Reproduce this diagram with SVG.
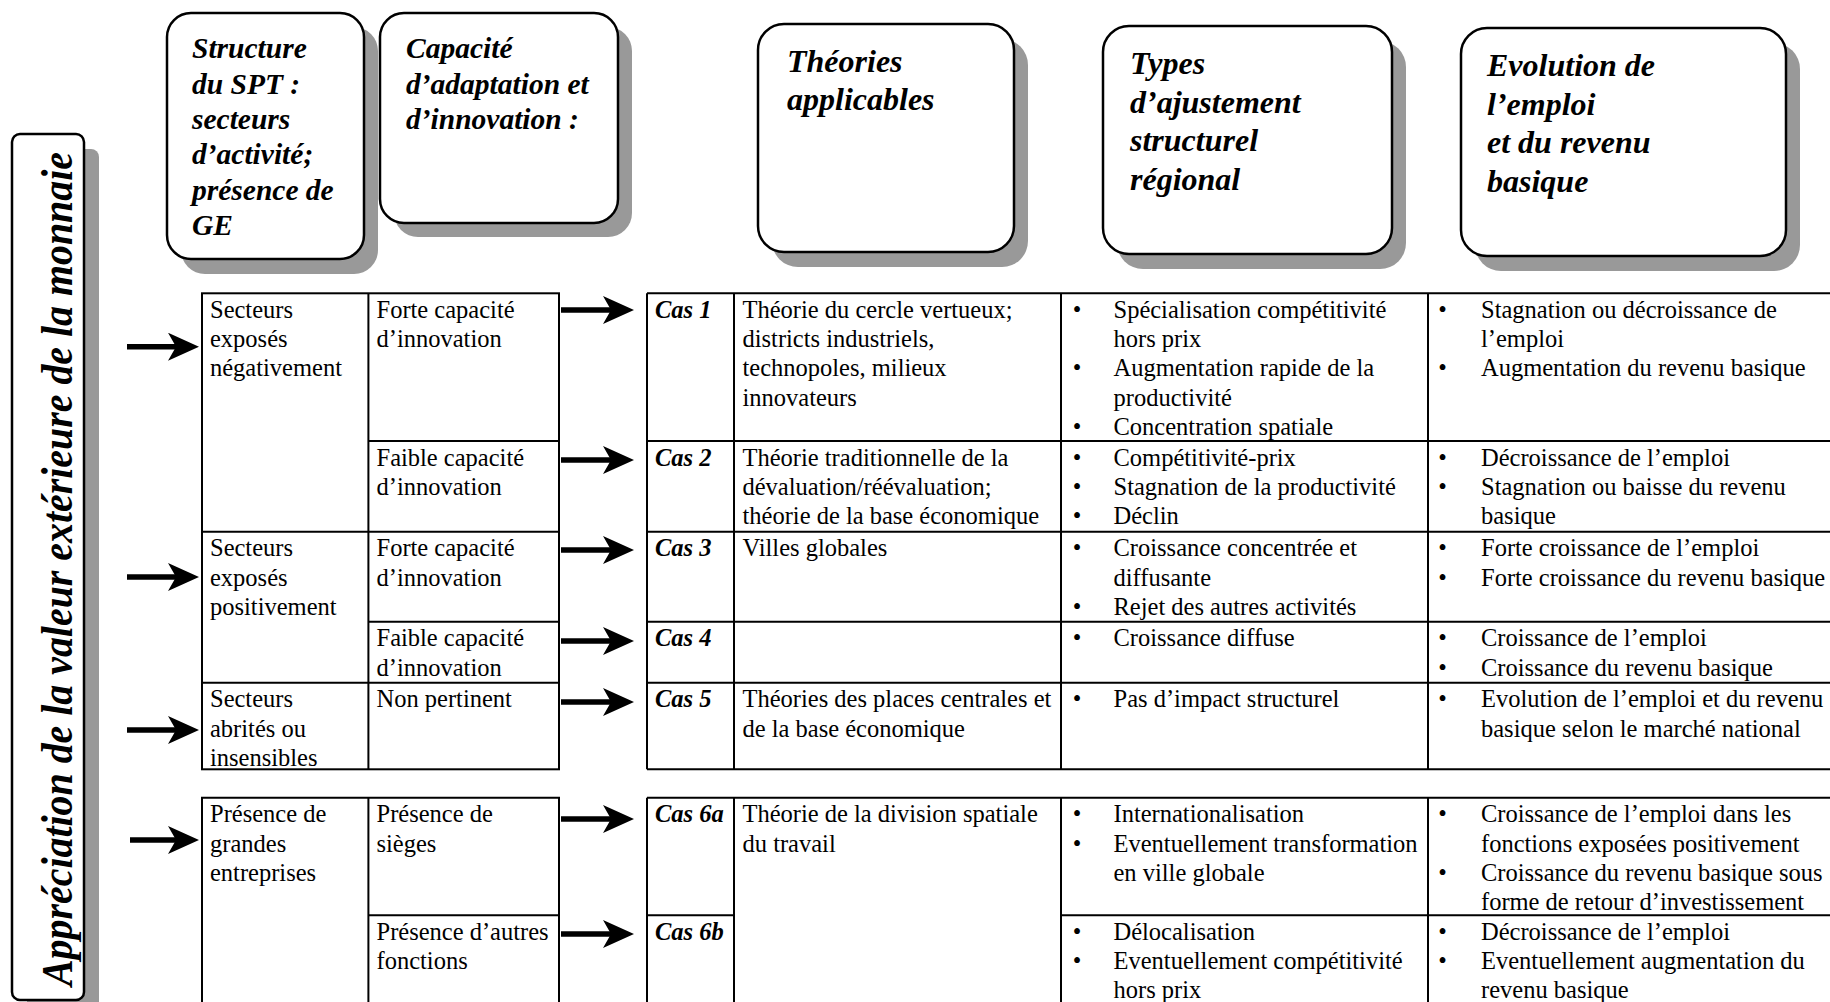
<svg xmlns="http://www.w3.org/2000/svg" width="1830" height="1002" viewBox="0 0 1830 1002">
<style>
text{font-family:"Liberation Serif","Times New Roman",serif;fill:#000}
.t{font-size:24.5px}
.ci{font-size:24.5px;font-weight:bold;font-style:italic}
.h1{font-size:29.5px;font-weight:bold;font-style:italic}
.h2{font-size:32px;font-weight:bold;font-style:italic}
.vt{font-size:44px;font-weight:bold;font-style:italic}
.box{fill:#fff;stroke:#000;stroke-width:2.5}
.sh{fill:#999}
.ln{stroke:#000;stroke-width:2;fill:none}
.arr{stroke:#000;stroke-width:5.5;fill:none;marker-end:url(#ah)}
.b{text-anchor:middle}
</style>
<defs>
<marker id="ah" markerUnits="userSpaceOnUse" markerWidth="31" markerHeight="28" viewBox="0 0 31 28" refX="14" refY="14" orient="auto">
<path d="M0,0 L31,14 L0,28 L8,14 Z" fill="#000"/>
</marker>
</defs>
<rect width="1830" height="1002" fill="#fff"/>

<g id="label-vertical">
<rect class="sh" x="27" y="149" width="72" height="870" rx="8"/>
<rect class="box" x="12" y="134" width="72" height="866" rx="8"/>
<text class="vt" text-anchor="middle" transform="translate(72,569) rotate(-90)" textLength="834" lengthAdjust="spacingAndGlyphs">Appréciation de la valeur extérieure de la monnaie</text>
</g>

<g id="header-structure">
<rect class="sh" x="181" y="27" width="197" height="247" rx="24"/>
<rect class="box" x="167" y="13" width="197" height="246" rx="24"/>
<text class="h1"><tspan x="192" y="58.3">Structure</tspan><tspan x="192" y="93.6">du SPT :</tspan><tspan x="192" y="128.9">secteurs</tspan><tspan x="192" y="164.2">d’activité;</tspan><tspan x="192" y="199.5">présence de</tspan><tspan x="192" y="234.8">GE</tspan></text>
</g>

<g id="header-capacite">
<rect class="sh" x="394" y="27" width="238" height="210" rx="24"/>
<rect class="box" x="380" y="13" width="238" height="210" rx="24"/>
<text class="h1"><tspan x="406" y="58.3">Capacité</tspan><tspan x="406" y="93.6">d’adaptation et</tspan><tspan x="406" y="128.9">d’innovation :</tspan></text>
</g>

<g id="header-theories">
<rect class="sh" x="772" y="39" width="256" height="228" rx="26"/>
<rect class="box" x="758" y="24" width="256" height="228" rx="26"/>
<text class="h2"><tspan x="787" y="71.7">Théories</tspan><tspan x="787" y="110">applicables</tspan></text>
</g>

<g id="header-types">
<rect class="sh" x="1117" y="41" width="289" height="228" rx="26"/>
<rect class="box" x="1103" y="26" width="289" height="228" rx="26"/>
<text class="h2"><tspan x="1130" y="74">Types</tspan><tspan x="1130" y="112.7">d’ajustement</tspan><tspan x="1130" y="151.4">structurel</tspan><tspan x="1130" y="190.1">régional</tspan></text>
</g>

<g id="header-evolution">
<rect class="sh" x="1475" y="43" width="325" height="228" rx="26"/>
<rect class="box" x="1461" y="28" width="325" height="228" rx="26"/>
<text class="h2"><tspan x="1487" y="76">Evolution de</tspan><tspan x="1487" y="114.6">l’emploi</tspan><tspan x="1487" y="153.2">et du revenu</tspan><tspan x="1487" y="191.8">basique</tspan></text>
</g>

<g id="table-left-1">
<rect class="ln" x="202" y="293.3" width="357" height="476"/>
<line class="ln" x1="368.4" y1="293.3" x2="368.4" y2="769.3"/>
<line class="ln" x1="368.4" y1="441" x2="559" y2="441"/>
<line class="ln" x1="202" y1="531.7" x2="559" y2="531.7"/>
<line class="ln" x1="368.4" y1="621.7" x2="559" y2="621.7"/>
<line class="ln" x1="202" y1="682.7" x2="559" y2="682.7"/>
<text class="t"><tspan x="210" y="317.8">Secteurs</tspan><tspan x="210" y="347.1">exposés</tspan><tspan x="210" y="376.4">négativement</tspan></text>
<text class="t"><tspan x="376.5" y="317.8">Forte capacité</tspan><tspan x="376.5" y="347.1">d’innovation</tspan></text>
<text class="t"><tspan x="376.5" y="465.5">Faible capacité</tspan><tspan x="376.5" y="494.8">d’innovation</tspan></text>
<text class="t"><tspan x="210" y="556.2">Secteurs</tspan><tspan x="210" y="585.5">exposés</tspan><tspan x="210" y="614.8">positivement</tspan></text>
<text class="t"><tspan x="376.5" y="556.2">Forte capacité</tspan><tspan x="376.5" y="585.5">d’innovation</tspan></text>
<text class="t"><tspan x="376.5" y="646.2">Faible capacité</tspan><tspan x="376.5" y="675.5">d’innovation</tspan></text>
<text class="t"><tspan x="210" y="707.2">Secteurs</tspan><tspan x="210" y="736.5">abrités ou</tspan><tspan x="210" y="765.8">insensibles</tspan></text>
<text class="t"><tspan x="376.5" y="707.2">Non pertinent</tspan></text>
</g>

<g id="table-left-2">
<polyline class="ln" points="202,1010 202,797.7 559,797.7 559,1010"/>
<line class="ln" x1="368.4" y1="797.7" x2="368.4" y2="1010"/>
<line class="ln" x1="368.4" y1="915.3" x2="559" y2="915.3"/>
<text class="t"><tspan x="210" y="822.2">Présence de</tspan><tspan x="210" y="851.5">grandes</tspan><tspan x="210" y="880.8">entreprises</tspan></text>
<text class="t"><tspan x="376.5" y="822.2">Présence de</tspan><tspan x="376.5" y="851.5">sièges</tspan></text>
<text class="t"><tspan x="376.5" y="939.8">Présence d’autres</tspan><tspan x="376.5" y="969.1">fonctions</tspan></text>
</g>

<g id="table-right-1">
<line class="ln" x1="647" y1="293.3" x2="1840" y2="293.3"/>
<line class="ln" x1="647" y1="769.3" x2="1840" y2="769.3"/>
<line class="ln" x1="647" y1="441" x2="1840" y2="441"/>
<line class="ln" x1="647" y1="531.7" x2="1840" y2="531.7"/>
<line class="ln" x1="647" y1="621.7" x2="1840" y2="621.7"/>
<line class="ln" x1="647" y1="682.7" x2="1840" y2="682.7"/>
<line class="ln" x1="647" y1="293.3" x2="647" y2="769.3"/>
<line class="ln" x1="734" y1="293.3" x2="734" y2="769.3"/>
<line class="ln" x1="1061" y1="293.3" x2="1061" y2="769.3"/>
<line class="ln" x1="1428" y1="293.3" x2="1428" y2="769.3"/>
<text class="ci" x="655" y="317.8">Cas 1</text>
<text class="ci" x="655" y="465.5">Cas 2</text>
<text class="ci" x="655" y="556.2">Cas 3</text>
<text class="ci" x="655" y="646.2">Cas 4</text>
<text class="ci" x="655" y="707.2">Cas 5</text>
<text class="t"><tspan x="742.5" y="317.8">Théorie du cercle vertueux;</tspan><tspan x="742.5" y="347.1">districts industriels,</tspan><tspan x="742.5" y="376.4">technopoles, milieux</tspan><tspan x="742.5" y="405.7">innovateurs</tspan></text>
<text class="t"><tspan x="742.5" y="465.5">Théorie traditionnelle de la</tspan><tspan x="742.5" y="494.8">dévaluation/réévaluation;</tspan><tspan x="742.5" y="524.1">théorie de la base économique</tspan></text>
<text class="t" x="742.5" y="556.2">Villes globales</text>
<text class="t"><tspan x="742.5" y="707.2">Théories des places centrales et</tspan><tspan x="742.5" y="736.5">de la base économique</tspan></text>
<text class="t b"><tspan x="1077" y="317.8">•</tspan><tspan x="1077" y="376.4">•</tspan><tspan x="1077" y="435">•</tspan><tspan x="1077" y="465.5">•</tspan><tspan x="1077" y="494.8">•</tspan><tspan x="1077" y="524.1">•</tspan><tspan x="1077" y="556.2">•</tspan><tspan x="1077" y="614.8">•</tspan><tspan x="1077" y="646.2">•</tspan><tspan x="1077" y="707.2">•</tspan></text>
<text class="t"><tspan x="1113.5" y="317.8">Spécialisation compétitivité</tspan><tspan x="1113.5" y="347.1">hors prix</tspan><tspan x="1113.5" y="376.4">Augmentation rapide de la</tspan><tspan x="1113.5" y="405.7">productivité</tspan><tspan x="1113.5" y="435">Concentration spatiale</tspan></text>
<text class="t"><tspan x="1113.5" y="465.5">Compétitivité-prix</tspan><tspan x="1113.5" y="494.8">Stagnation de la productivité</tspan><tspan x="1113.5" y="524.1">Déclin</tspan></text>
<text class="t"><tspan x="1113.5" y="556.2">Croissance concentrée et</tspan><tspan x="1113.5" y="585.5">diffusante</tspan><tspan x="1113.5" y="614.8">Rejet des autres activités</tspan></text>
<text class="t" x="1113.5" y="646.2">Croissance diffuse</text>
<text class="t" x="1113.5" y="707.2">Pas d’impact structurel</text>
<text class="t b"><tspan x="1442.5" y="317.8">•</tspan><tspan x="1442.5" y="376.4">•</tspan><tspan x="1442.5" y="465.5">•</tspan><tspan x="1442.5" y="494.8">•</tspan><tspan x="1442.5" y="556.2">•</tspan><tspan x="1442.5" y="585.5">•</tspan><tspan x="1442.5" y="646.2">•</tspan><tspan x="1442.5" y="675.5">•</tspan><tspan x="1442.5" y="707.2">•</tspan></text>
<text class="t"><tspan x="1481" y="317.8">Stagnation ou décroissance de</tspan><tspan x="1481" y="347.1">l’emploi</tspan><tspan x="1481" y="376.4">Augmentation du revenu basique</tspan></text>
<text class="t"><tspan x="1481" y="465.5">Décroissance de l’emploi</tspan><tspan x="1481" y="494.8">Stagnation ou baisse du revenu</tspan><tspan x="1481" y="524.1">basique</tspan></text>
<text class="t"><tspan x="1481" y="556.2">Forte croissance de l’emploi</tspan><tspan x="1481" y="585.5">Forte croissance du revenu basique</tspan></text>
<text class="t"><tspan x="1481" y="646.2">Croissance de l’emploi</tspan><tspan x="1481" y="675.5">Croissance du revenu basique</tspan></text>
<text class="t"><tspan x="1481" y="707.2">Evolution de l’emploi et du revenu</tspan><tspan x="1481" y="736.5">basique selon le marché national</tspan></text>
</g>

<g id="table-right-2">
<line class="ln" x1="647" y1="797.7" x2="1840" y2="797.7"/>
<line class="ln" x1="647" y1="915.3" x2="734" y2="915.3"/>
<line class="ln" x1="1061" y1="915.3" x2="1840" y2="915.3"/>
<line class="ln" x1="647" y1="797.7" x2="647" y2="1010"/>
<line class="ln" x1="734" y1="797.7" x2="734" y2="1010"/>
<line class="ln" x1="1061" y1="797.7" x2="1061" y2="1010"/>
<line class="ln" x1="1428" y1="797.7" x2="1428" y2="1010"/>
<text class="ci" x="655" y="822.2">Cas 6a</text>
<text class="ci" x="655" y="939.8">Cas 6b</text>
<text class="t"><tspan x="742.5" y="822.2">Théorie de la division spatiale</tspan><tspan x="742.5" y="851.5">du travail</tspan></text>
<text class="t b"><tspan x="1077" y="822.2">•</tspan><tspan x="1077" y="851.5">•</tspan><tspan x="1077" y="939.8">•</tspan><tspan x="1077" y="969.1">•</tspan></text>
<text class="t"><tspan x="1113.5" y="822.2">Internationalisation</tspan><tspan x="1113.5" y="851.5">Eventuellement transformation</tspan><tspan x="1113.5" y="880.8">en ville globale</tspan></text>
<text class="t"><tspan x="1113.5" y="939.8">Délocalisation</tspan><tspan x="1113.5" y="969.1">Eventuellement compétitivité</tspan><tspan x="1113.5" y="998.4">hors prix</tspan></text>
<text class="t b"><tspan x="1442.5" y="822.2">•</tspan><tspan x="1442.5" y="880.8">•</tspan><tspan x="1442.5" y="939.8">•</tspan><tspan x="1442.5" y="969.1">•</tspan></text>
<text class="t"><tspan x="1481" y="822.2">Croissance de l’emploi dans les</tspan><tspan x="1481" y="851.5">fonctions exposées positivement</tspan><tspan x="1481" y="880.8">Croissance du revenu basique sous</tspan><tspan x="1481" y="910.1">forme de retour d’investissement</tspan></text>
<text class="t"><tspan x="1481" y="939.8">Décroissance de l’emploi</tspan><tspan x="1481" y="969.1">Eventuellement augmentation du</tspan><tspan x="1481" y="998.4">revenu basique</tspan></text>
</g>

<g id="connectors">
<line class="arr" x1="127" y1="346.7" x2="182" y2="346.7"/>
<line class="arr" x1="127" y1="577" x2="182" y2="577"/>
<line class="arr" x1="127" y1="730" x2="182" y2="730"/>
<line class="arr" x1="130" y1="840" x2="182" y2="840"/>
<line class="arr" x1="561" y1="310" x2="617" y2="310"/>
<line class="arr" x1="561" y1="460" x2="617" y2="460"/>
<line class="arr" x1="561" y1="550" x2="617" y2="550"/>
<line class="arr" x1="561" y1="641" x2="617" y2="641"/>
<line class="arr" x1="561" y1="702" x2="617" y2="702"/>
<line class="arr" x1="561" y1="819" x2="617" y2="819"/>
<line class="arr" x1="561" y1="934" x2="617" y2="934"/>
</g>
</svg>
